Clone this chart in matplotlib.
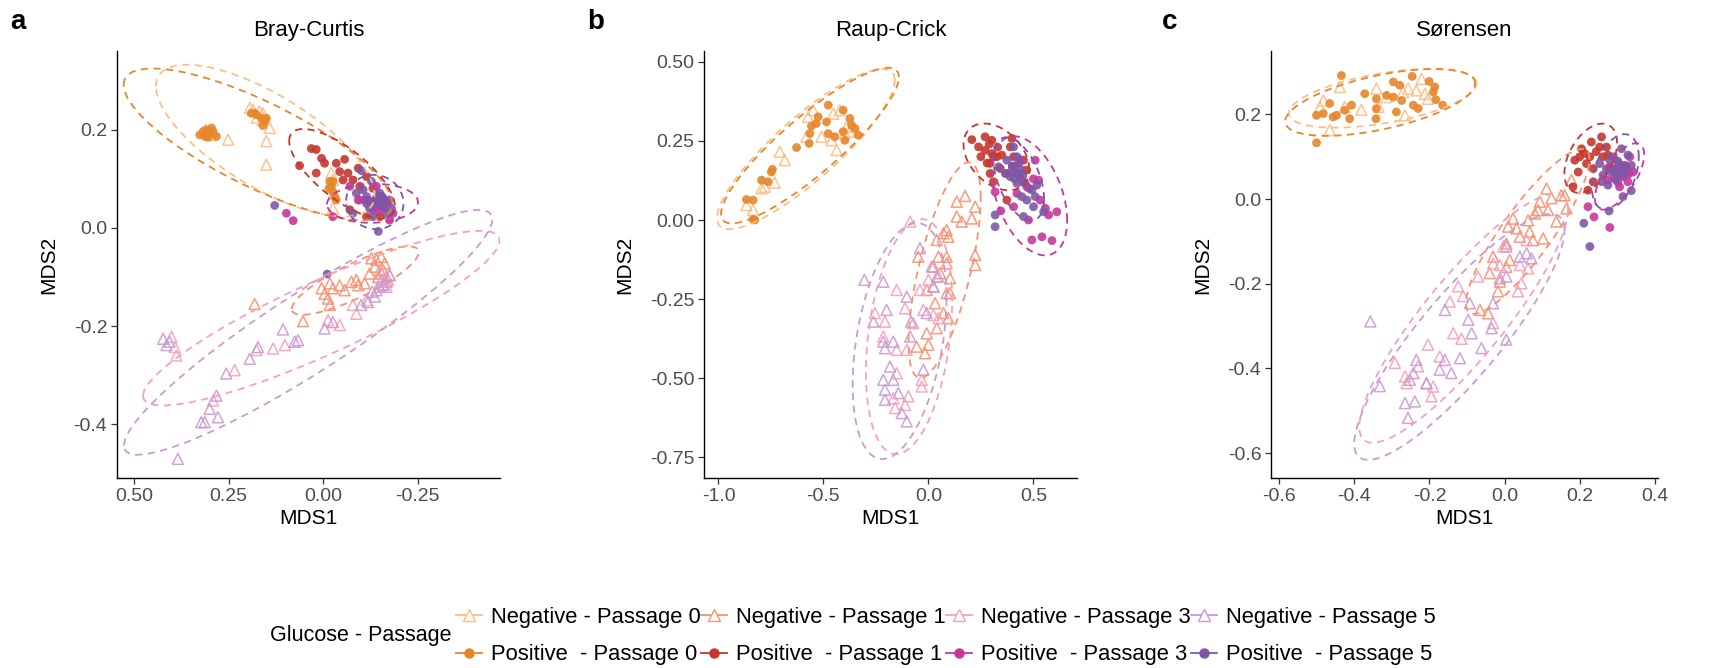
import numpy as np
import matplotlib.pyplot as plt
from matplotlib.lines import Line2D

plt.rcParams['font.family'] = ['Liberation Sans', 'DejaVu Sans']

# group labels and colours (Negative = open triangles, Positive = filled circles)
labels = ['Negative - Passage 0', 'Positive  - Passage 0',
          'Negative - Passage 1', 'Positive  - Passage 1',
          'Negative - Passage 3', 'Positive  - Passage 3',
          'Negative - Passage 5', 'Positive  - Passage 5']
colors = ['#FDBE85', '#E6862A', '#F99170', '#C4372E',
          '#F7A1B8', '#C7379B', '#C99AD6', '#7E57A6']

# ---- Bray-Curtis ----
bc_neg0_x = [0.194, 0.185, 0.159, 0.141, 0.251, 0.150, 0.150, -0.022, -0.026, 0.168, -0.026, 0.31, 0.30,
             0.305, 0.295, 0.175, 0.160, -0.020, -0.028]
bc_neg0_y = [0.245, 0.241, 0.234, 0.204, 0.180, 0.177, 0.129, 0.112, 0.040, 0.238, 0.098, 0.20, 0.19,
             0.195, 0.190, 0.225, 0.220, 0.085, 0.070]
bc_pos0_x = [0.326, 0.317, 0.309, 0.300, 0.291, 0.282, 0.313, 0.295, 0.304, 0.190, 0.176, 0.163, 0.154, 0.150,
             0.159, 0.181, -0.018, -0.022, -0.026, -0.031, -0.035, -0.016, -0.026]
bc_pos0_y = [0.190, 0.197, 0.200, 0.194, 0.197, 0.187, 0.187, 0.204, 0.185, 0.234, 0.231, 0.224, 0.218, 0.224,
             0.209, 0.234, 0.095, 0.085, 0.074, 0.064, 0.057, 0.081, 0.095]
bc_neg1_x = [0.181, 0.053, 0.004, -0.004, -0.013, -0.018, -0.018, -0.026, -0.044, -0.057, -0.075, -0.093,
             -0.110, -0.128, -0.137, -0.154, -0.159, -0.146, -0.163, -0.168, -0.123, -0.141, -0.088, -0.154]
bc_neg1_y = [-0.155, -0.190, -0.123, -0.134, -0.144, -0.157, -0.113, -0.123, -0.117, -0.127, -0.110, -0.117,
             -0.113, -0.062, -0.079, -0.059, -0.086, -0.100, -0.072, -0.100, -0.093, -0.065, -0.106, -0.093]
bc_pos1_x = [0.062, 0.031, 0.018, 0.004, -0.004, -0.035, -0.057, -0.053, -0.079, -0.093, 0.018, -0.071,
             -0.115, -0.097, -0.115, -0.066, -0.132, -0.150, -0.044]
bc_pos1_y = [0.127, 0.162, 0.160, 0.142, 0.132, 0.132, 0.140, 0.098, 0.098, 0.122, 0.112, 0.037,
             0.023, 0.085, 0.105, 0.112, 0.081, 0.023, 0.115]
bc_neg3_x = [0.401, 0.392, 0.388, 0.291, 0.234, 0.176, 0.132, 0.101, -0.013, -0.044, -0.079, -0.088,
             -0.159, -0.172, -0.168, -0.176, -0.150, -0.115]
bc_neg3_y = [-0.222, -0.243, -0.260, -0.352, -0.290, -0.249, -0.246, -0.239, -0.188, -0.198, -0.157, -0.175,
             -0.117, -0.106, -0.120, -0.096, -0.086, -0.147]
bc_pos3_x = [0.097, 0.079, -0.026, -0.071, -0.097, -0.150, -0.176, -0.132, -0.115, -0.168, -0.185, -0.141, -0.093,
             -0.130, -0.150, -0.140, -0.160, -0.120, -0.170, -0.145, -0.155]
bc_pos3_y = [0.030, 0.015, 0.023, 0.085, 0.057, 0.064, 0.016, 0.037, 0.057, 0.050, 0.030, 0.085, 0.057,
             0.050, 0.045, 0.060, 0.040, 0.055, 0.050, 0.035, 0.065]
bc_neg5_x = [0.423, 0.414, 0.406, 0.384, 0.313, 0.300, 0.282, 0.278, 0.256, 0.194, 0.172, 0.106, 0.075,
             0.066, -0.004, -0.026, -0.101, -0.119, -0.137, -0.141, -0.168, -0.176, 0.322,
             -0.150, -0.160, -0.130, -0.155]
bc_neg5_y = [-0.226, -0.239, -0.232, -0.471, -0.396, -0.369, -0.342, -0.386, -0.297, -0.267, -0.243, -0.207,
             -0.232, -0.229, -0.205, -0.192, -0.157, -0.151, -0.140, -0.127, -0.110, -0.096, -0.396,
             -0.120, -0.115, -0.130, -0.105]
bc_pos5_x = [0.128, -0.011, -0.146, -0.101, -0.128, -0.115, -0.141, -0.159, -0.168, -0.079, -0.176, -0.106,
             -0.123, -0.150, -0.137, -0.088, -0.159, -0.132, -0.181, -0.115,
             -0.140, -0.150, -0.130, -0.160, -0.145]
bc_pos5_y = [0.046, -0.094, -0.007, 0.117, 0.095, 0.064, 0.050, 0.044, 0.030, 0.030, 0.057, 0.078,
             0.040, 0.071, 0.057, 0.071, 0.057, 0.023, 0.040, 0.050,
             0.055, 0.050, 0.045, 0.060, 0.065]

# ---- Raup-Crick ----
rc_neg0_x = [-0.835, -0.795, -0.732, -0.708, -0.684, -0.581, -0.573, -0.509, -0.461, -0.453, -0.437, -0.422,
             -0.398, -0.390, -0.374, -0.867, -0.779, -0.549]
rc_neg0_y = [0.032, 0.100, 0.118, 0.216, 0.189, 0.263, 0.326, 0.263, 0.252, 0.336, 0.221, 0.347,
             0.273, 0.294, 0.279, 0.047, 0.105, 0.347]
rc_pos0_x = [-0.835, -0.827, -0.867, -0.835, -0.795, -0.764, -0.748, -0.743, -0.628, -0.565, -0.557, -0.525,
             -0.477, -0.485, -0.477, -0.446, -0.406, -0.398, -0.406, -0.374, -0.366, -0.350, -0.334, -0.568, -0.534]
rc_pos0_y = [0.002, 0.000, 0.065, 0.063, 0.126, 0.121, 0.152, 0.160, 0.229, 0.273, 0.297, 0.326,
             0.363, 0.310, 0.273, 0.263, 0.347, 0.252, 0.279, 0.321, 0.300, 0.289, 0.268, 0.242, 0.305]
rc_neg1_x = [0.135, 0.175, 0.223, 0.207, 0.159, 0.135, 0.223, 0.223, 0.087, 0.095, 0.072, 0.040, 0.048, 0.087,
             0.087, 0.103, 0.024, 0.056, 0.087, 0.095, 0.040, 0.000, -0.008, -0.056, 0.032, 0.024, -0.048,
             -0.008, 0.072, -0.016, 0.103]
rc_neg1_y = [0.058, 0.076, 0.042, 0.005, -0.005, 0.011, -0.110, -0.142, -0.032, -0.053, -0.042, -0.063, -0.116,
             -0.116, -0.137, -0.184, -0.147, -0.168, -0.231, -0.310, -0.342, -0.394, -0.358, -0.400, -0.263,
             -0.210, -0.116, -0.221, -0.294, -0.421, -0.231]
rc_pos1_x = [0.207, 0.239, 0.270, 0.302, 0.294, 0.294, 0.310, 0.350, 0.374, 0.398, 0.406, 0.453, 0.469,
             0.326, 0.374, 0.302, 0.390, 0.437, 0.342,
             0.270, 0.290, 0.310, 0.280, 0.330, 0.250]
rc_pos1_y = [0.254, 0.231, 0.263, 0.252, 0.179, 0.147, 0.121, 0.205, 0.063, 0.258, 0.200, 0.189, 0.158,
             0.200, 0.147, 0.210, 0.231, 0.137, 0.163,
             0.220, 0.240, 0.200, 0.180, 0.230, 0.200]
rc_neg3_x = [-0.087, -0.151, -0.111, -0.255, -0.207, -0.215, -0.151, -0.103, -0.032, -0.032, -0.167, -0.095,
             -0.111, -0.159, -0.040, 0.000, 0.048, -0.024, 0.048, -0.072, -0.151, 0.024]
rc_neg3_y = [-0.005, -0.221, -0.279, -0.294, -0.321, -0.368, -0.410, -0.410, -0.505, -0.526, -0.563, -0.557,
             -0.584, -0.594, -0.221, -0.189, -0.179, -0.284, -0.310, -0.326, -0.484, -0.300]
rc_pos3_x = [0.318, 0.345, 0.422, 0.477, 0.493, 0.541, 0.589, 0.612, 0.573, 0.533, 0.509, 0.469, 0.557, 0.525, 0.406,
             0.420, 0.450, 0.480, 0.400, 0.440, 0.500]
rc_pos3_y = [0.089, 0.029, 0.084, 0.000, -0.063, -0.053, -0.065, 0.026, 0.016, 0.063, 0.189, 0.105, 0.037, 0.126, 0.042,
             0.150, 0.120, 0.100, 0.170, 0.190, 0.130]
rc_neg5_x = [-0.305, -0.215, -0.199, -0.262, -0.103, -0.083, -0.040, 0.016, 0.040, -0.008, 0.024, -0.207,
             -0.215, -0.167, -0.087, -0.183, -0.215, -0.167, -0.207, -0.143, -0.127, -0.103, -0.024, -0.207]
rc_neg5_y = [-0.189, -0.195, -0.284, -0.321, -0.242, -0.321, -0.089, -0.147, -0.179, -0.294, -0.210, -0.405,
             -0.384, -0.384, -0.368, -0.463, -0.505, -0.505, -0.568, -0.547, -0.610, -0.636, -0.473, -0.536]
rc_pos5_x = [0.318, 0.318, 0.406, 0.414, 0.374, 0.334, 0.437, 0.390, 0.461, 0.493, 0.509, 0.445, 0.501,
             0.549, 0.453, 0.422, 0.366, 0.422, 0.517, 0.469,
             0.400, 0.420, 0.430, 0.410, 0.440, 0.390, 0.450]
rc_pos5_y = [0.016, -0.021, 0.231, 0.168, 0.189, 0.168, 0.147, 0.137, 0.116, 0.095, 0.074, 0.074, 0.042,
             0.026, 0.011, 0.200, 0.147, 0.116, 0.110, 0.063,
             0.170, 0.150, 0.180, 0.130, 0.160, 0.150, 0.140]

# ---- Sørensen ----
so_neg0_x = [-0.482, -0.465, -0.438, -0.425, -0.381, -0.341, -0.335, -0.314, -0.265, -0.257, -0.235, -0.221,
             -0.212, -0.204, -0.270, -0.491]
so_neg0_y = [0.233, 0.163, 0.265, 0.218, 0.211, 0.261, 0.218, 0.241, 0.198, 0.261, 0.257, 0.284,
             0.249, 0.237, 0.253, 0.218]
so_pos0_x = [-0.500, -0.500, -0.482, -0.465, -0.456, -0.447, -0.434, -0.425, -0.412, -0.407, -0.372, -0.342,
             -0.341, -0.314, -0.296, -0.296, -0.288, -0.279, -0.274, -0.246, -0.243, -0.230, -0.201, -0.190,
             -0.183, -0.165, -0.341, -0.186]
so_pos0_y = [0.133, 0.198, 0.202, 0.226, 0.194, 0.198, 0.292, 0.210, 0.190, 0.222, 0.249, 0.190,
             0.237, 0.245, 0.277, 0.241, 0.206, 0.269, 0.233, 0.290, 0.222, 0.214, 0.278, 0.253,
             0.235, 0.222, 0.214, 0.265]
so_neg1_x = [0.177, 0.111, 0.150, 0.159, 0.124, 0.093, 0.115, 0.164, 0.088, 0.080, 0.062, 0.022, 0.009, 0.031,
             0.004, 0.040, 0.075, 0.102, 0.137, -0.031, -0.040, 0.013, -0.018, -0.013, -0.066, -0.044, 0.004, 0.066]
so_neg1_y = [0.045, 0.025, 0.009, 0.009, 0.002, -0.006, -0.026, -0.022, -0.026, -0.034, -0.050, -0.046, -0.065,
             -0.069, -0.105, -0.089, -0.097, -0.093, -0.053, -0.136, -0.175, -0.144, -0.218, -0.195, -0.262,
             -0.270, -0.160, -0.077]
so_pos1_x = [0.186, 0.181, 0.195, 0.204, 0.217, 0.221, 0.230, 0.235, 0.235, 0.243, 0.257, 0.261, 0.270,
             0.212, 0.252, 0.226, 0.199, 0.274]
so_pos1_y = [0.092, 0.029, 0.064, 0.119, 0.084, 0.021, 0.135, 0.072, 0.041, 0.112, 0.147, 0.100, 0.123,
             0.108, 0.123, 0.100, 0.100, 0.104]
so_neg3_x = [-0.004, 0.040, 0.062, 0.044, 0.035, -0.071, -0.124, -0.146, -0.111, -0.137, -0.115, -0.204,
             -0.292, -0.265, -0.230, -0.208, -0.190, -0.195, -0.173, -0.031, -0.013, -0.031, 0.058, -0.261]
so_neg3_y = [-0.112, -0.156, -0.164, -0.199, -0.218, -0.183, -0.206, -0.242, -0.229, -0.317, -0.330, -0.344,
             -0.387, -0.419, -0.395, -0.435, -0.443, -0.466, -0.372, -0.293, -0.156, -0.152, -0.097, -0.435]
so_pos3_x = [0.221, 0.237, 0.279, 0.279, 0.305, 0.327, 0.341, 0.332, 0.314, 0.274, 0.296, 0.323,
             0.300, 0.310, 0.290, 0.320, 0.300, 0.330]
so_pos3_y = [-0.018, -0.042, -0.067, 0.076, 0.029, 0.041, 0.064, 0.100, 0.053, 0.045, 0.060, 0.076,
             0.060, 0.070, 0.050, 0.080, 0.040, 0.060]
so_neg5_x = [-0.357, -0.332, -0.265, -0.257, -0.239, -0.252, -0.243, -0.235, -0.208, -0.173, -0.159, -0.142,
             -0.119, -0.159, -0.093, -0.097, -0.088, -0.062, -0.035, -0.031, 0.004, -0.013, 0.004, 0.040,
             0.071, 0.058, 0.004]
so_neg5_y = [-0.289, -0.442, -0.482, -0.517, -0.478, -0.427, -0.411, -0.380, -0.435, -0.403, -0.380, -0.411,
             -0.376, -0.262, -0.246, -0.285, -0.317, -0.352, -0.305, -0.246, -0.332, -0.187, -0.183, -0.136,
             -0.140, -0.128, -0.112]
so_pos5_x = [0.210, 0.226, 0.277, 0.314, 0.336, 0.310, 0.288, 0.252, 0.261, 0.274, 0.288, 0.301, 0.319,
             0.336, 0.327, 0.270, 0.296, 0.279, 0.310, 0.257,
             0.290, 0.300, 0.310, 0.280, 0.300, 0.320]
so_pos5_y = [-0.057, -0.112, -0.028, 0.006, 0.020, 0.119, 0.100, 0.084, 0.057, 0.033, 0.068, 0.084, 0.076,
             0.080, 0.104, 0.072, 0.045, 0.092, 0.057, 0.041,
             0.070, 0.060, 0.080, 0.065, 0.090, 0.060]


def cov_trob(x, nu=5, maxit=25, tol=0.01):
    # multivariate t robust estimate of location and scatter (as MASS::cov.trob)
    n, p = x.shape
    loc = x.mean(axis=0)
    w = np.ones(n)
    for _ in range(maxit):
        w0 = w
        X = x - loc
        _, d, vt = np.linalg.svd(np.sqrt(w / w.sum())[:, None] * X, full_matrices=False)
        wX = X @ vt.T @ np.diag(1 / d)
        Q = (wX ** 2).sum(axis=1)
        w = (nu + p) / (nu + Q)
        loc = (w[:, None] * x).sum(axis=0) / w.sum()
        if np.all(np.abs(w - w0) < tol):
            break
    X = x - loc
    cov = (np.sqrt(w)[:, None] * X).T @ (np.sqrt(w)[:, None] * X) / n
    return loc, cov


def t_ellipse(xs, ys, level=0.95, segments=51):
    pts = np.column_stack([xs, ys])
    center, shape = cov_trob(pts)
    dfd = len(xs) - 1
    qf = dfd / 2 * ((1 - level) ** (-2 / dfd) - 1)   # F(2, dfd) quantile
    radius = np.sqrt(2 * qf)
    ang = np.linspace(0, 2 * np.pi, segments + 1)
    circ = np.column_stack([np.cos(ang), np.sin(ang)])
    chol = np.linalg.cholesky(shape).T
    e = center + radius * circ @ chol
    return e[:, 0], e[:, 1]


panels = [
    ('a', 'Bray-Curtis',
     [(bc_neg0_x, bc_neg0_y), (bc_pos0_x, bc_pos0_y), (bc_neg1_x, bc_neg1_y), (bc_pos1_x, bc_pos1_y),
      (bc_neg3_x, bc_neg3_y), (bc_pos3_x, bc_pos3_y), (bc_neg5_x, bc_neg5_y), (bc_pos5_x, bc_pos5_y)],
     (0.545, -0.468), (-0.51, 0.361),
     [0.5, 0.25, 0.0, -0.25], ['0.50', '0.25', '0.00', '-0.25'],
     [-0.4, -0.2, 0.0, 0.2], ['-0.4', '-0.2', '0.0', '0.2']),
    ('b', 'Raup-Crick',
     [(rc_neg0_x, rc_neg0_y), (rc_pos0_x, rc_pos0_y), (rc_neg1_x, rc_neg1_y), (rc_pos1_x, rc_pos1_y),
      (rc_neg3_x, rc_neg3_y), (rc_pos3_x, rc_pos3_y), (rc_neg5_x, rc_neg5_y), (rc_pos5_x, rc_pos5_y)],
     (-1.069, 0.708), (-0.815, 0.534),
     [-1.0, -0.5, 0.0, 0.5], ['-1.0', '-0.5', '0.0', '0.5'],
     [-0.75, -0.5, -0.25, 0.0, 0.25, 0.5], ['-0.75', '-0.50', '-0.25', '0.00', '0.25', '0.50']),
    ('c', 'Sørensen',
     [(so_neg0_x, so_neg0_y), (so_pos0_x, so_pos0_y), (so_neg1_x, so_neg1_y), (so_pos1_x, so_pos1_y),
      (so_neg3_x, so_neg3_y), (so_pos3_x, so_pos3_y), (so_neg5_x, so_neg5_y), (so_pos5_x, so_pos5_y)],
     (-0.621, 0.407), (-0.659, 0.350),
     [-0.6, -0.4, -0.2, 0.0, 0.2, 0.4], ['-0.6', '-0.4', '-0.2', '0.0', '0.2', '0.4'],
     [-0.6, -0.4, -0.2, 0.0, 0.2], ['-0.6', '-0.4', '-0.2', '0.0', '0.2']),
]

W, H = 1732, 668
fig = plt.figure(figsize=(W / 100, H / 100), dpi=100)
boxes = [(117, 500), (704, 1077), (1271, 1658)]
letter_x = [10, 587, 1162]
top, bottom = 51, 478

for (letter, title, groups, xl, yl, xt, xtl, yt, ytl), (x0, x1), lx in zip(panels, boxes, letter_x):
    ax = fig.add_axes([x0 / W, 1 - bottom / H, (x1 - x0) / W, (bottom - top) / H])
    for i, (xs, ys) in enumerate(groups):
        if i % 2 == 0:
            ax.scatter(xs, ys, marker='^', s=62, facecolors='none', edgecolors=colors[i],
                       linewidths=1.1, alpha=0.9, zorder=2)
        else:
            ax.scatter(xs, ys, marker='o', s=40, color=colors[i], edgecolors='none', alpha=0.9, zorder=2)
    for i, (xs, ys) in enumerate(groups):
        ex, ey = t_ellipse(np.array(xs), np.array(ys))
        ax.plot(ex, ey, color=colors[i], lw=1.3, dashes=(4, 3), zorder=3)
    ax.set_xlim(*xl)
    ax.set_ylim(*yl)
    ax.set_xticks(xt)
    ax.set_xticklabels(xtl)
    ax.set_yticks(yt)
    ax.set_yticklabels(ytl)
    ax.spines['top'].set_visible(False)
    ax.spines['right'].set_visible(False)
    for s in ('left', 'bottom'):
        ax.spines[s].set_linewidth(1.0)
    ax.tick_params(length=4, width=0.9, color='#333333', labelcolor='#4D4D4D', labelsize=14, pad=3)
    ax.set_xlabel('MDS1', fontsize=15, labelpad=3)
    ax.set_ylabel('MDS2', fontsize=15, labelpad=11)
    ax.set_title(title, fontsize=16, pad=11)
    fig.text(lx / W, 1 - 29 / H, letter, fontsize=20, fontweight='bold', va='baseline')

handles = []
for i, c in enumerate(colors):
    if i % 2 == 0:
        handles.append(Line2D([0], [0], color=c, lw=1.3, marker='^', markersize=8,
                              markerfacecolor='white', markeredgecolor=c))
    else:
        handles.append(Line2D([0], [0], color=c, lw=1.3, marker='o', markersize=6.5,
                              markerfacecolor=c, markeredgecolor=c))
fig.text(270 / W, 1 - 636 / H, 'Glucose - Passage', fontsize=15.5, va='center', ha='left')
fig.legend(handles, labels, ncol=4, loc='center left', bbox_to_anchor=(456 / W, 1 - 636 / H),
           frameon=False, fontsize=15.8, handlelength=1.2, handletextpad=0.4, columnspacing=0.0,
           labelspacing=0.75, borderpad=0, borderaxespad=0)

fig.savefig('out.png', dpi=100)
